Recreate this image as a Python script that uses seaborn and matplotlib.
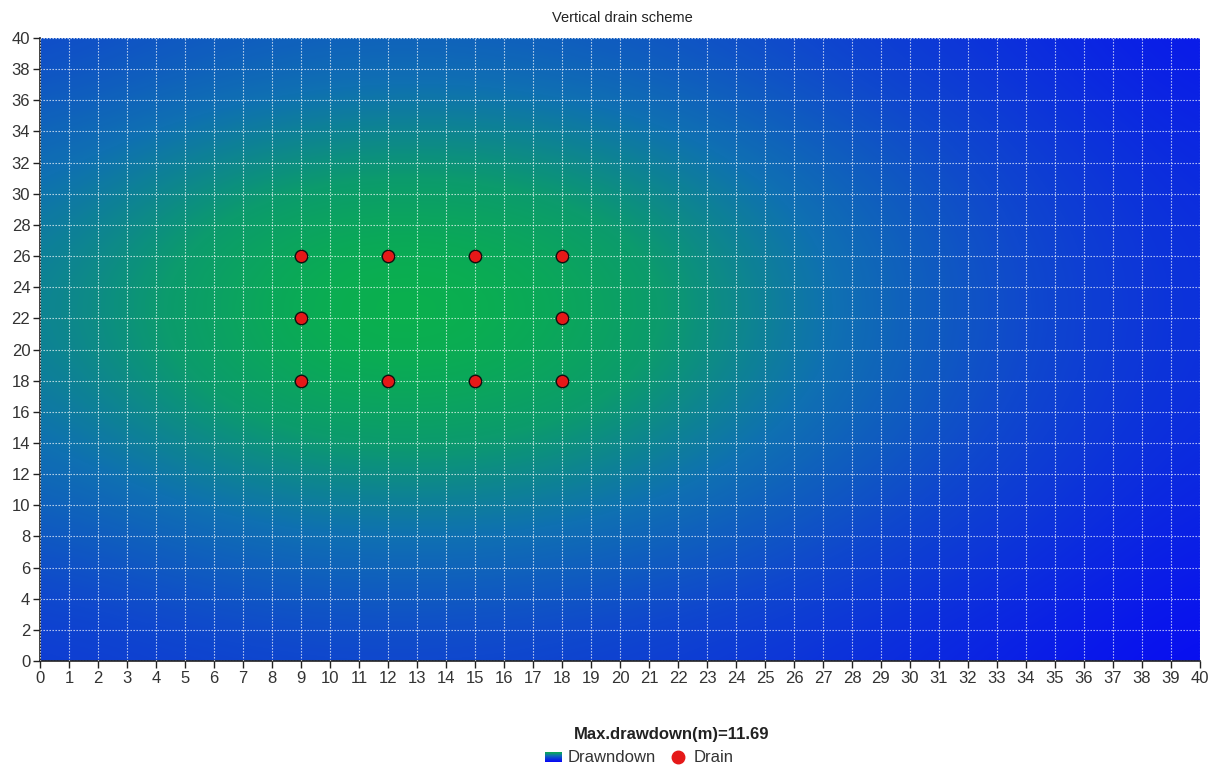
import numpy as np
import pandas as pd
import matplotlib
matplotlib.use("Agg")
import matplotlib.pyplot as plt
import seaborn as sns
from matplotlib.colors import LinearSegmentedColormap
from matplotlib.lines import Line2D

# ---- data ----
title = "Vertical drain scheme"
max_drawdown = 11.69
grid_x = [0, 5, 10, 15, 20, 25, 30, 35, 40]
grid_y = [0, 5, 10, 15, 20, 25, 30, 35, 40]
# estimated drawdown (m) read off the colour field, rows = grid_y, cols = grid_x
drawdown = [
    [3.7, 4.1, 4.4, 4.4, 4.0, 3.3, 2.4, 1.3, 0.2],
    [4.7, 5.5, 6.0, 6.0, 5.6, 4.8, 3.6, 2.4, 1.1],
    [6.0, 7.0, 7.7, 7.8, 7.2, 6.1, 4.8, 3.3, 1.9],
    [7.0, 8.6, 9.8, 9.8, 8.8, 7.2, 5.7, 4.0, 2.5],
    [7.8, 9.6, 11.5, 11.5, 10.0, 7.9, 6.1, 4.4, 2.8],
    [7.8, 9.6, 11.6, 11.6, 10.0, 7.9, 6.1, 4.4, 2.8],
    [7.0, 8.6, 9.8, 9.8, 8.8, 7.2, 5.7, 4.0, 2.5],
    [6.0, 7.0, 7.7, 7.8, 7.2, 6.1, 4.8, 3.3, 1.9],
    [4.7, 5.5, 6.0, 6.0, 5.6, 4.8, 3.6, 2.4, 1.1],
]
drain_x = [9, 12, 15, 18, 9, 18, 9, 12, 15, 18]
drain_y = [26, 26, 26, 26, 22, 22, 18, 18, 18, 18]
x_ticks = list(range(0, 41, 1))
y_ticks = list(range(0, 41, 2))

drains = pd.DataFrame({"x": drain_x, "y": drain_y})

sns.set_theme(style="white")
plt.rcParams["font.family"] = ["Liberation Sans", "DejaVu Sans"]

cmap = LinearSegmentedColormap.from_list(
    "dd",
    [(0.0, (8/255, 8/255, 245/255)),
     (0.4, (15/255, 72/255, 205/255)),
     (0.6, (15/255, 112/255, 178/255)),
     (0.8, (12/255, 155/255, 108/255)),
     (1.0, (10/255, 178/255, 75/255))])

fig = plt.figure(figsize=(12.22, 7.69), dpi=100)
ax = fig.add_axes([40/1222, 1 - 661/769, 1160/1222, 623/769])

Z = np.array(drawdown)
half = (grid_x[1] - grid_x[0]) / 2
ax.imshow(Z, origin="lower", cmap=cmap, vmin=0, vmax=max_drawdown,
          extent=(grid_x[0]-half, grid_x[-1]+half, grid_y[0]-half, grid_y[-1]+half),
          interpolation="bicubic", aspect="auto", zorder=0)

sns.scatterplot(data=drains, x="x", y="y", ax=ax, s=80, color="#e51818",
                edgecolor="#111111", linewidth=1.0, zorder=5, legend=False)

ax.set_xlim(0, 40)
ax.set_ylim(0, 40)
ax.set_xticks(x_ticks)
ax.set_yticks(y_ticks)
ax.set_xlabel("")
ax.set_ylabel("")
ax.grid(True, color="white", linestyle=(0, (1.2, 1.5)), linewidth=0.8, alpha=0.8, zorder=2)
ax.set_axisbelow(False)
ax.tick_params(axis="both", which="both", direction="out", length=5, width=1,
               color="#222222", labelsize=12, labelcolor="#333333", pad=2,
               bottom=True, left=True)
for side in ["top", "right"]:
    ax.spines[side].set_visible(False)
for side in ["left", "bottom"]:
    ax.spines[side].set_color("#222222")
    ax.spines[side].set_linewidth(1.2)

fig.text(622/1222, 1 - 18/769, title, ha="center", va="center", fontsize=10.5, color="#222222")
fig.text(672/1222, 1 - 735/769, f"Max.drawdown(m)={max_drawdown}", ha="center", va="center",
         fontsize=12, fontweight="bold", color="#222222")

# legend: gradient patch
lax = fig.add_axes([545/1222, 1 - 762/769, 17/1222, 10/769])
grad = np.linspace(0, 1, 20).reshape(-1, 1)
lax.imshow(grad, origin="lower", cmap=cmap, aspect="auto")
lax.set_axis_off()
fig.text(568/1222, 1 - 757/769, "Drawndown", ha="left", va="center", fontsize=12, color="#333333")
fig.add_artist(Line2D([678/1222], [1 - 757/769], marker="o", markersize=9, color="#e51818",
                      markeredgecolor="#e51818", transform=fig.transFigure))
fig.text(694/1222, 1 - 757/769, "Drain", ha="left", va="center", fontsize=12, color="#333333")

fig.savefig("out.png", dpi=100)
